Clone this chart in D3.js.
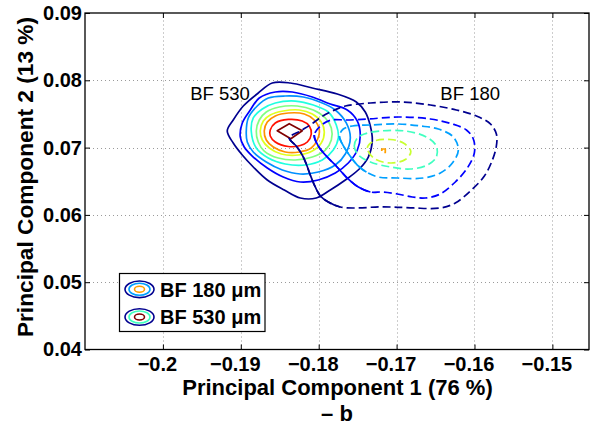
<!DOCTYPE html>
<html><head><meta charset="utf-8">
<script src="https://cdn.jsdelivr.net/npm/d3@7"></script>
<style>
body{margin:0;background:#fff}
text{font-family:"Liberation Sans",Arial,Helvetica,sans-serif}
</style>
</head><body>
<svg id="c" width="592" height="425"></svg>
<script>
// ---------- data ----------
const xTicks = [-0.2, -0.19, -0.18, -0.17, -0.16, -0.15];
const yTicks = [0.04, 0.05, 0.06, 0.07, 0.08, 0.09];
const xDomain = [-0.21, -0.1453];
const yDomain = [0.04, 0.09];

// BF 530 contour levels (outer -> inner), [PC1, PC2]
const bf530_1 = [[-0.19174,0.07247],[-0.19097,0.07410],[-0.18968,0.07618],[-0.18776,0.07811],[-0.18596,0.07960],[-0.18365,0.07960],[-0.18082,0.07886],[-0.17761,0.07796],[-0.17517,0.07678],[-0.17402,0.07529],[-0.17337,0.07321],[-0.17312,0.07098],[-0.17363,0.06860],[-0.17479,0.06682],[-0.17658,0.06519],[-0.17851,0.06370],[-0.18031,0.06251],[-0.18236,0.06251],[-0.18442,0.06370],[-0.18660,0.06519],[-0.18840,0.06712],[-0.18981,0.06890],[-0.19097,0.07068]];
const bf530_2 = [[-0.19007,0.07158],[-0.18981,0.07366],[-0.18878,0.07559],[-0.18763,0.07737],[-0.18557,0.07826],[-0.18339,0.07826],[-0.18082,0.07752],[-0.17851,0.07648],[-0.17633,0.07559],[-0.17504,0.07395],[-0.17466,0.07187],[-0.17504,0.06964],[-0.17620,0.06771],[-0.17787,0.06623],[-0.18005,0.06519],[-0.18236,0.06489],[-0.18455,0.06563],[-0.18660,0.06697],[-0.18853,0.06875],[-0.18956,0.07009]];
const bf530_3 = [[-0.18930,0.07232],[-0.18904,0.07440],[-0.18789,0.07618],[-0.18647,0.07737],[-0.18429,0.07767],[-0.18198,0.07752],[-0.17954,0.07663],[-0.17787,0.07559],[-0.17646,0.07366],[-0.17594,0.07143],[-0.17658,0.06905],[-0.17787,0.06741],[-0.18005,0.06637],[-0.18236,0.06608],[-0.18467,0.06667],[-0.18673,0.06786],[-0.18840,0.06935],[-0.18917,0.07083]];
const bf530_4 = [[-0.18866,0.07247],[-0.18840,0.07440],[-0.18724,0.07574],[-0.18557,0.07663],[-0.18301,0.07692],[-0.18069,0.07633],[-0.17877,0.07529],[-0.17774,0.07336],[-0.17748,0.07143],[-0.17813,0.06964],[-0.17954,0.06816],[-0.18172,0.06741],[-0.18429,0.06756],[-0.18647,0.06845],[-0.18801,0.06994]];
const bf530_5 = [[-0.18801,0.07247],[-0.18763,0.07410],[-0.18673,0.07529],[-0.18506,0.07603],[-0.18275,0.07618],[-0.18069,0.07559],[-0.17915,0.07440],[-0.17838,0.07291],[-0.17838,0.07113],[-0.17915,0.06964],[-0.18082,0.06860],[-0.18301,0.06816],[-0.18519,0.06845],[-0.18699,0.06949],[-0.18776,0.07083]];
const bf530_6 = [[-0.18750,0.07247],[-0.18711,0.07395],[-0.18622,0.07484],[-0.18455,0.07544],[-0.18249,0.07559],[-0.18082,0.07499],[-0.17967,0.07380],[-0.17928,0.07232],[-0.17967,0.07068],[-0.18082,0.06949],[-0.18262,0.06890],[-0.18480,0.06905],[-0.18634,0.06994],[-0.18724,0.07113]];
const bf530_7 = [[-0.18699,0.07247],[-0.18660,0.07380],[-0.18557,0.07470],[-0.18390,0.07514],[-0.18185,0.07499],[-0.18057,0.07410],[-0.17992,0.07262],[-0.18018,0.07113],[-0.18095,0.06994],[-0.18249,0.06935],[-0.18429,0.06935],[-0.18583,0.07009],[-0.18673,0.07113]];
const bf530_8 = [[-0.18622,0.07262],[-0.18557,0.07366],[-0.18390,0.07418],[-0.18211,0.07395],[-0.18121,0.07321],[-0.18095,0.07202],[-0.18146,0.07083],[-0.18236,0.07031],[-0.18390,0.07016],[-0.18557,0.07083],[-0.18622,0.07172]];
const bf530_9 = [[-0.18532,0.07251],[-0.18378,0.07355],[-0.18211,0.07251],[-0.18358,0.07131]];

// BF 180 contour levels (outer -> inner)
const bf180_1 = [[-0.18378,0.07143],[-0.18288,0.07024],[-0.18211,0.06890],[-0.18159,0.06756],[-0.18108,0.06593],[-0.18044,0.06415],[-0.17979,0.06281],[-0.17877,0.06192],[-0.17723,0.06117],[-0.17504,0.06103],[-0.17273,0.06117],[-0.17055,0.06117],[-0.16785,0.06103],[-0.16438,0.06103],[-0.16246,0.06177],[-0.16053,0.06355],[-0.15873,0.06578],[-0.15770,0.06816],[-0.15719,0.07024],[-0.15719,0.07202],[-0.15796,0.07351],[-0.15976,0.07470],[-0.16233,0.07559],[-0.16567,0.07633],[-0.16952,0.07678],[-0.17337,0.07663],[-0.17658,0.07618],[-0.17825,0.07544],[-0.17967,0.07455],[-0.18108,0.07336],[-0.18236,0.07247]];
const bf180_2 = [[-0.18057,0.07187],[-0.18005,0.07024],[-0.17902,0.06875],[-0.17787,0.06741],[-0.17646,0.06563],[-0.17491,0.06415],[-0.17337,0.06340],[-0.17170,0.06340],[-0.16991,0.06311],[-0.16798,0.06266],[-0.16631,0.06251],[-0.16438,0.06311],[-0.16246,0.06489],[-0.16092,0.06697],[-0.16002,0.06920],[-0.16015,0.07128],[-0.16104,0.07262],[-0.16284,0.07351],[-0.16567,0.07425],[-0.16978,0.07455],[-0.17363,0.07425],[-0.17646,0.07410],[-0.17838,0.07410],[-0.17979,0.07321]];
const bf180_3 = [[-0.17735,0.07172],[-0.17697,0.07054],[-0.17607,0.06890],[-0.17504,0.06741],[-0.17389,0.06637],[-0.17235,0.06563],[-0.16991,0.06548],[-0.16657,0.06548],[-0.16438,0.06623],[-0.16284,0.06771],[-0.16207,0.06964],[-0.16271,0.07158],[-0.16464,0.07276],[-0.16695,0.07321],[-0.16991,0.07351],[-0.17337,0.07336],[-0.17568,0.07321],[-0.17684,0.07276]];
const bf180_4 = [[-0.17543,0.07024],[-0.17504,0.07143],[-0.17414,0.07202],[-0.17209,0.07247],[-0.16888,0.07247],[-0.16618,0.07158],[-0.16490,0.07024],[-0.16490,0.06860],[-0.16605,0.06741],[-0.16824,0.06682],[-0.17080,0.06712],[-0.17337,0.06786],[-0.17491,0.06890]];
const bf180_5 = [[-0.17376,0.06994],[-0.17299,0.07091],[-0.17080,0.07120],[-0.16913,0.07068],[-0.16817,0.06942],[-0.16888,0.06823],[-0.17080,0.06771],[-0.17286,0.06838]];
const bf180_6 = [[-0.17190,0.06979],[-0.17145,0.06979],[-0.17145,0.06927],[-0.17190,0.06927]];

const contours530 = [bf530_1,bf530_2,bf530_3,bf530_4,bf530_5,bf530_6,bf530_7,bf530_8,bf530_9];
const contours180 = [bf180_1,bf180_2,bf180_3,bf180_4,bf180_5,bf180_6];

const seriesLabels = ["BF 530", "BF 180"];
const labelPos = [[-0.19649, 0.07714], [-0.16438, 0.07714]];
const legendLabels = ["BF 180 \u03bcm", "BF 530 \u03bcm"];
const xLabel = "Principal Component 1 (76 %)";
const yLabel = "Principal Component 2 (13 %)";
const subLabel = "\u2013 b";

// ---------- styles ----------
const colors530 = ["#00008F","#0000FF","#0090FF","#20FFDF","#80FF80","#DFFF20","#FF9000","#FF1000","#800000"];
const colors180 = ["#00008F","#0000FF","#00A0FF","#40FFC0","#C8FF30","#FFA000"];
const solidPts180 = [9, 7, 5, 0, 0, 0];
const legendColors = [["#00008F","#00A0FF","#FF9F00"],["#00008F","#40FFBF","#800000"]];

// ---------- layout ----------
const svg = d3.select("#c");
svg.append("rect").attr("width",592).attr("height",425).attr("fill","#fff");
const L = 85, R = 589, T = 13, B = 349.5;
const x = d3.scaleLinear().domain(xDomain).range([L, R]);
const y = d3.scaleLinear().domain(yDomain).range([B, T]);

// grid
const grid = svg.append("g").attr("stroke","#9a9a9a").attr("stroke-width",1).attr("stroke-dasharray","1,3");
xTicks.forEach(t => grid.append("line").attr("x1",Math.round(x(t))+0.5).attr("x2",Math.round(x(t))+0.5).attr("y1",B).attr("y2",T));
yTicks.filter(t => t>0.041 && t<0.089).forEach(t => grid.append("line").attr("y1",Math.round(y(t))+0.5).attr("y2",Math.round(y(t))+0.5).attr("x1",L).attr("x2",R));

// contours
const line = d3.line().x(d => x(d[0])).y(d => y(d[1]));
function curveFor(c){ return c.length <= 4 ? d3.curveLinearClosed : d3.curveCatmullRomClosed.alpha(0.5); }
const gc = svg.append("g").attr("fill","none").attr("stroke-width",1.7).attr("stroke-linejoin","round");

contours530.forEach((c,i) => {
  gc.append("path").attr("d", line.curve(curveFor(c))(c)).attr("stroke", colors530[i]);
});

contours180.forEach((c,i) => {
  const pts = c.length <= 4 ? c : [c[c.length-1], ...c.slice(0,-1)];
  const d = line.curve(curveFor(c))(pts);
  const p = gc.append("path").attr("d", d).attr("stroke", colors180[i]).attr("stroke-dasharray","8,4");
  const k = solidPts180[i];
  if (k > 1) {
    const node = p.node(), len = node.getTotalLength();
    const tx = x(c[k-1][0]), ty = y(c[k-1][1]);
    let best = 0, bd = 1e9;
    for (let s = 0; s <= len; s += 0.5) {
      const pt = node.getPointAtLength(s);
      const dd = (pt.x-tx)**2 + (pt.y-ty)**2;
      if (dd < bd) { bd = dd; best = s; }
    }
    gc.append("path").attr("d", d).attr("stroke", colors180[i])
      .attr("stroke-dasharray", `${best} ${len+10}`);
  }
});

// text labels in data space
svg.selectAll("text.series").data(seriesLabels).join("text")
  .attr("x",(d,i)=>x(labelPos[i][0])).attr("y",(d,i)=>y(labelPos[i][1]))
  .attr("font-size",18.5).attr("fill","#000").text(d=>d);

// axes
const fmtX = d3.format("");
const fmtY = d3.format(".2f");
const axB = svg.append("g").attr("transform",`translate(0,${B})`)
  .call(d3.axisBottom(x).tickValues(xTicks).tickSizeInner(-5).tickSizeOuter(0).tickPadding(7).tickFormat(fmtX));
const axL = svg.append("g").attr("transform",`translate(${L},0)`)
  .call(d3.axisLeft(y).tickValues(yTicks).tickSizeInner(-5).tickSizeOuter(0).tickPadding(3).tickFormat(fmtY));
const axT = svg.append("g").attr("transform",`translate(0,${T})`)
  .call(d3.axisTop(x).tickValues(xTicks).tickSizeInner(-5).tickSizeOuter(0).tickFormat(""));
const axR = svg.append("g").attr("transform",`translate(${R},0)`)
  .call(d3.axisRight(y).tickValues(yTicks).tickSizeInner(-5).tickSizeOuter(0).tickFormat(""));
[axB,axL,axT,axR].forEach(a => {
  a.select(".domain").remove();
  a.selectAll("line").attr("stroke","#000").attr("stroke-width",1);
  a.selectAll("text").attr("font-size",20).attr("font-weight","bold").attr("fill","#000")
    .attr("font-family","'Liberation Sans',Arial,Helvetica,sans-serif");
});
axB.selectAll("text").attr("dx",-6);
svg.append("rect").attr("x",L).attr("y",T).attr("width",R-L).attr("height",B-T)
  .attr("fill","none").attr("stroke","#000").attr("stroke-width",1.3);

// axis titles
svg.append("text").attr("x",337.5).attr("y",395).attr("text-anchor","middle")
  .attr("font-size",22).attr("font-weight","bold").text(xLabel);
svg.append("text").attr("x",337).attr("y",421).attr("text-anchor","middle")
  .attr("font-size",22).attr("font-weight","bold").text(subLabel);
svg.append("text").attr("transform","translate(33,177) rotate(-90)").attr("text-anchor","middle")
  .attr("font-size",22.7).attr("font-weight","bold").text(yLabel);

// legend
const lg = svg.append("g");
lg.append("rect").attr("x",119.5).attr("y",273.5).attr("width",145.5).attr("height",58)
  .attr("fill","#fff").attr("stroke","#000").attr("stroke-width",1.2);
const radii = [[14.5,8.3],[10.5,6],[5,3]];
legendLabels.forEach((lab,i) => {
  const cy = 289.3 + i*27.7;
  radii.forEach((r,j) => lg.append("ellipse").attr("cx",139.5).attr("cy",cy).attr("rx",r[0]).attr("ry",r[1])
    .attr("fill","none").attr("stroke",legendColors[i][j]).attr("stroke-width",1.6));
  lg.append("text").attr("x",160).attr("y",cy+7.3).attr("font-size",20).attr("font-weight","bold").text(lab);
});
</script>
</body></html>
